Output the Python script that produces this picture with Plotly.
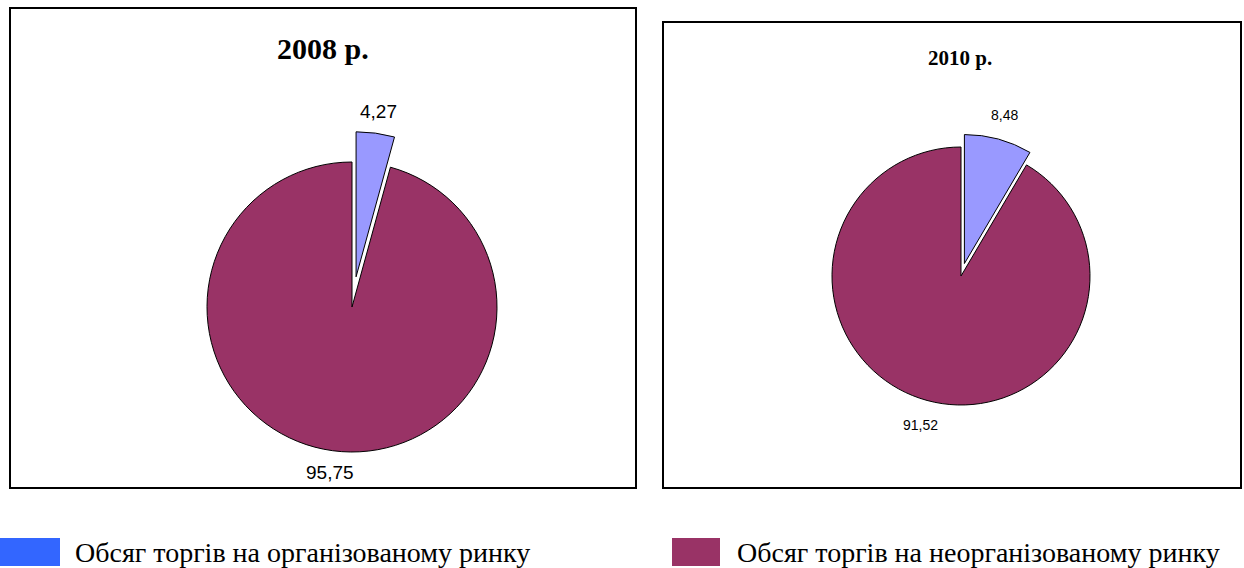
import math
import plotly.graph_objects as go

# Market segments and their shares of trading volume, %
segments = ["Обсяг торгів на організованому ринку", "Обсяг торгів на неорганізованому ринку"]
share_2008 = [4.27, 95.75]
share_2010 = [8.48, 91.52]
years = ["2008 р.", "2010 р."]

W, H = 1244, 568
SLICE_COLORS = ["#9999FF", "#993366"]
LEGEND_COLORS = ["#3366FF", "#993366"]
SERIF = "Times New Roman, Liberation Serif, serif"
SANS = "Arial, Liberation Sans, sans-serif"


def px_x(v):
    return v / W


def px_y(v):
    return 1 - v / H


def pie_domain(cx, cy, r, pull):
    half = r * (1 + pull)
    return dict(x=[px_x(cx - half), px_x(cx + half)],
                y=[px_y(cy + half), px_y(cy - half)])


def comma(v):
    return f"{v:.2f}".replace(".", ",")


fig = go.Figure()
annotations = []

# (values, centre x, centre y, radius, pull of first slice, label gap, label font size)
pies = [
    (share_2008, 352, 307, 145, 0.21, 22, 19),
    (share_2010, 961, 276, 129, 0.10, 25, 14),
]
for vals, cx, cy, r, pull, gap, fsize in pies:
    pulls = [pull, 0]
    fig.add_trace(go.Pie(
        values=vals,
        labels=segments,
        textinfo="none",
        sort=False,
        direction="clockwise",
        rotation=0,
        pull=pulls,
        marker=dict(colors=SLICE_COLORS, line=dict(color="black", width=1)),
        domain=pie_domain(cx, cy, r, pull),
        showlegend=False,
        hoverinfo="label+value",
    ))
    # value labels just outside each slice, along its mid-angle
    total = sum(vals)
    start = 0.0
    for v, p in zip(vals, pulls):
        mid = 2 * math.pi * (start + v / 2) / total
        start += v
        d = r * (1 + p) + gap
        annotations.append(dict(
            text=comma(v),
            x=px_x(cx + d * math.sin(mid)), y=px_y(cy - d * math.cos(mid)),
            xref="paper", yref="paper", xanchor="center", yanchor="middle",
            showarrow=False, font=dict(family=SANS, size=fsize, color="black"),
        ))

shapes = [
    # panel frames
    dict(type="rect", xref="paper", yref="paper",
         x0=px_x(10), x1=px_x(636), y0=px_y(488), y1=px_y(8),
         line=dict(color="black", width=2), fillcolor="rgba(0,0,0,0)"),
    dict(type="rect", xref="paper", yref="paper",
         x0=px_x(663), x1=px_x(1241), y0=px_y(488), y1=px_y(22),
         line=dict(color="black", width=2), fillcolor="rgba(0,0,0,0)"),
    # legend swatches
    dict(type="rect", xref="paper", yref="paper",
         x0=px_x(0), x1=px_x(60), y0=px_y(566), y1=px_y(538),
         line=dict(width=0), fillcolor=LEGEND_COLORS[0]),
    dict(type="rect", xref="paper", yref="paper",
         x0=px_x(672), x1=px_x(720), y0=px_y(566), y1=px_y(538),
         line=dict(width=0), fillcolor=LEGEND_COLORS[1]),
]

annotations += [
    dict(text=f"<b>{years[0]}</b>", x=px_x(323), y=px_y(48), xref="paper", yref="paper",
         xanchor="center", yanchor="middle", showarrow=False,
         font=dict(family=SERIF, size=30, color="black")),
    dict(text=f"<b>{years[1]}</b>", x=px_x(960), y=px_y(58), xref="paper", yref="paper",
         xanchor="center", yanchor="middle", showarrow=False,
         font=dict(family=SERIF, size=21, color="black")),
    dict(text=segments[0], x=px_x(73), y=px_y(552), xref="paper", yref="paper",
         xanchor="left", yanchor="middle", showarrow=False,
         font=dict(family=SERIF, size=28, color="black")),
    dict(text=segments[1], x=px_x(735), y=px_y(552), xref="paper", yref="paper",
         xanchor="left", yanchor="middle", showarrow=False,
         font=dict(family=SERIF, size=28, color="black")),
]

fig.update_layout(
    width=W, height=H,
    margin=dict(l=0, r=0, t=0, b=0),
    paper_bgcolor="white",
    plot_bgcolor="white",
    shapes=shapes,
    annotations=annotations,
)

fig.write_html("out.html")
